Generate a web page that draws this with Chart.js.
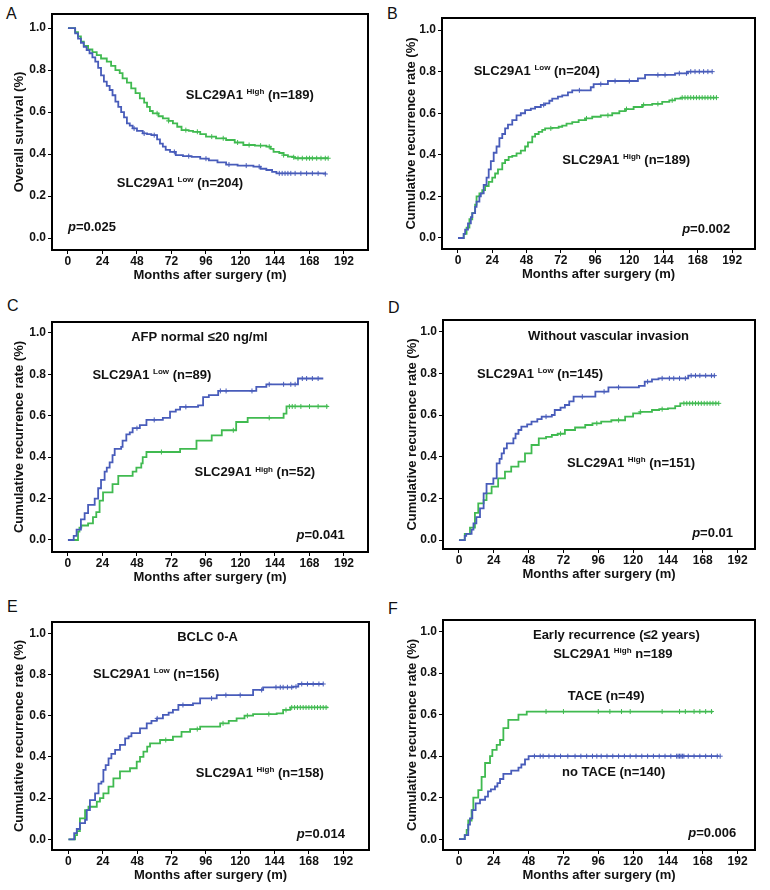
<!DOCTYPE html>
<html>
<head>
<meta charset="utf-8">
<script src="https://cdn.jsdelivr.net/npm/chart.js@4.4.1/dist/chart.umd.min.js"></script>
<style>
  body { margin: 0; background: #fff; width: 770px; height: 890px; position: relative; overflow: hidden;
         font-family: "Liberation Sans", Arial, sans-serif; }
  canvas { position: absolute; }
  .tag { position: absolute; font-size: 16px; color: #111; }
</style>
</head>
<body>
<div class="tag" style="left:6px;top:5px">A</div>
<div class="tag" style="left:387px;top:5px">B</div>
<div class="tag" style="left:7px;top:297px">C</div>
<div class="tag" style="left:388px;top:299px">D</div>
<div class="tag" style="left:7px;top:598px">E</div>
<div class="tag" style="left:388px;top:600px">F</div>

<canvas id="pA" width="383" height="295" style="left:0;top:0"></canvas>
<canvas id="pB" width="380" height="290" style="left:390px;top:4px"></canvas>
<canvas id="pC" width="383" height="289" style="left:0;top:308px"></canvas>
<canvas id="pD" width="379" height="288" style="left:391px;top:306px"></canvas>
<canvas id="pE" width="384" height="287" style="left:0;top:608px"></canvas>
<canvas id="pF" width="379" height="289" style="left:391px;top:606px"></canvas>

<script>
const xTicks = [0, 24, 48, 72, 96, 120, 144, 168, 192]
const yTicks = [0, 0.2, 0.4, 0.6, 0.8, 1.0]

// A: overall survival
const aHighT = [0, 5, 7, 9, 11, 14, 17, 20, 23, 27, 30, 33, 36, 38, 41, 44, 47, 50, 53, 55, 57, 59, 63, 66, 70, 73, 76, 79, 84, 87, 92, 96, 103, 110, 116, 122, 130, 138, 141, 143, 147, 150, 153, 156, 158, 181]
const aHighS = [1.0, 0.98, 0.96, 0.935, 0.915, 0.898, 0.885, 0.871, 0.855, 0.84, 0.82, 0.80, 0.785, 0.76, 0.74, 0.713, 0.69, 0.665, 0.645, 0.625, 0.605, 0.594, 0.58, 0.57, 0.558, 0.546, 0.53, 0.514, 0.51, 0.506, 0.495, 0.483, 0.475, 0.467, 0.455, 0.443, 0.44, 0.435, 0.425, 0.41, 0.405, 0.395, 0.388, 0.385, 0.38, 0.38]
const aHighC = [62, 70, 82, 90, 100, 108, 118, 126, 134, 140, 150, 157, 160, 163, 166, 168, 170, 173, 176, 179, 181]
const aLowT = [0, 5, 7, 9, 11, 13, 15, 17, 19, 21, 23, 25, 27, 29, 31, 33, 35, 37, 39, 41, 43, 45, 48, 52, 55, 58, 62, 64, 66, 68, 71, 75, 80, 86, 92, 98, 104, 110, 118, 129, 134, 138, 142, 145, 179]
const aLowS = [1.0, 0.975, 0.95, 0.93, 0.91, 0.895, 0.88, 0.86, 0.84, 0.81, 0.775, 0.745, 0.725, 0.705, 0.68, 0.65, 0.625, 0.60, 0.575, 0.546, 0.535, 0.522, 0.51, 0.498, 0.495, 0.49, 0.47, 0.45, 0.435, 0.42, 0.41, 0.395, 0.39, 0.387, 0.378, 0.37, 0.36, 0.35, 0.345, 0.34, 0.33, 0.324, 0.315, 0.308, 0.305]
const aLowC = [46, 53, 60, 74, 84, 96, 112, 124, 133, 147, 149, 151, 153, 155, 158, 162, 166, 170, 174, 179]

// B: recurrence, all patients
const bLowT = [0, 4, 5, 7, 9, 10, 12, 13, 15, 16, 18, 20, 21.5, 23, 25, 27, 29, 31, 33, 35, 38, 41, 44, 47, 51, 54, 58, 61, 64, 66, 70, 73, 77, 80, 93, 95, 105, 126, 131, 152, 161, 178]
const bLowS = [0, 0.02, 0.04, 0.07, 0.1, 0.12, 0.15, 0.175, 0.2, 0.215, 0.255, 0.29, 0.33, 0.37, 0.41, 0.44, 0.48, 0.5, 0.527, 0.545, 0.567, 0.59, 0.6, 0.615, 0.622, 0.63, 0.64, 0.647, 0.66, 0.67, 0.68, 0.686, 0.7, 0.71, 0.725, 0.74, 0.755, 0.768, 0.784, 0.792, 0.80, 0.80]
const bLowC = [60, 85, 100, 110, 120, 140, 145, 155, 160, 163, 166, 169, 172, 175, 178]
const bHighT = [0, 4, 6, 8, 10, 12, 13, 15, 17, 19, 21.5, 24, 26, 28, 31, 33, 35.5, 38, 41, 44, 47, 49, 52, 54, 56.5, 59, 61, 66, 70.5, 73, 76, 80, 84.5, 89, 94, 100, 108, 113, 117, 123, 129, 136, 143, 148, 152, 156, 181.5]
const bHighS = [0, 0.02, 0.05, 0.09, 0.12, 0.16, 0.2, 0.215, 0.23, 0.25, 0.27, 0.29, 0.31, 0.33, 0.36, 0.375, 0.39, 0.395, 0.407, 0.42, 0.44, 0.46, 0.487, 0.5, 0.51, 0.52, 0.527, 0.53, 0.535, 0.54, 0.55, 0.557, 0.567, 0.575, 0.583, 0.59, 0.6, 0.61, 0.62, 0.63, 0.64, 0.645, 0.655, 0.662, 0.67, 0.675, 0.675]
const bHighC = [65, 90, 105, 118, 130, 140, 150, 157, 159, 161, 163, 165, 167, 169, 171, 173, 175, 177, 179, 181]

// C: AFP normal
const cLowT = [0, 4, 6, 9, 11.6, 14, 18.6, 21, 23, 25.5, 27, 29, 31, 32.5, 37, 38, 40.6, 43, 45, 50, 54.6, 66, 71, 75, 78, 90.5, 94, 98, 104.5, 131, 138, 160, 177.6]
const cLowS = [0, 0.02, 0.05, 0.1, 0.13, 0.17, 0.2, 0.25, 0.29, 0.33, 0.35, 0.375, 0.41, 0.44, 0.45, 0.48, 0.51, 0.52, 0.54, 0.555, 0.58, 0.59, 0.62, 0.63, 0.643, 0.65, 0.69, 0.70, 0.72, 0.74, 0.752, 0.78, 0.78]
const cLowC = [48, 60, 82, 106, 110, 128, 140, 150, 155, 158, 163, 166, 170, 174]
const cHighT = [0, 7, 8, 9.3, 14, 17.4, 19.7, 22, 24.4, 31, 35, 45, 47.6, 51, 52, 54.6, 78, 89.4, 100, 107, 117, 125, 150, 152, 181]
const cHighS = [0, 0.04, 0.06, 0.07, 0.08, 0.11, 0.135, 0.19, 0.23, 0.27, 0.31, 0.33, 0.35, 0.37, 0.40, 0.425, 0.44, 0.48, 0.505, 0.53, 0.57, 0.59, 0.61, 0.645, 0.645]
const cHighC = [65, 115, 140, 154, 156, 158, 162, 168, 174, 180]

// D: without vascular invasion
const dLowT = [0, 4, 5, 8.7, 10, 12, 14.5, 17, 19, 23.7, 26, 28, 29.4, 31, 33, 37.5, 39, 41, 43, 47, 50, 54, 57, 64, 66, 70, 73, 76, 79, 94, 103, 124, 128, 133, 137.5, 158, 176.6]
const dLowS = [0, 0.02, 0.03, 0.05, 0.08, 0.11, 0.152, 0.224, 0.27, 0.296, 0.368, 0.39, 0.416, 0.44, 0.464, 0.488, 0.51, 0.528, 0.544, 0.555, 0.568, 0.58, 0.592, 0.6, 0.624, 0.635, 0.648, 0.665, 0.688, 0.712, 0.733, 0.74, 0.76, 0.771, 0.776, 0.789, 0.789]
const dLowC = [60, 85, 100, 110, 130, 140, 145, 148, 152, 156, 160, 163, 166, 170, 174, 176]
const dHighT = [0, 4, 7.6, 11, 13.3, 17, 19, 22.5, 27, 31.7, 36, 41, 45.5, 50, 55, 60, 64, 68, 73, 80, 87, 92, 98, 105, 114.5, 120, 125, 133, 138, 144, 149, 152.5, 179]
const dHighS = [0, 0.03, 0.06, 0.13, 0.176, 0.192, 0.224, 0.256, 0.296, 0.328, 0.352, 0.376, 0.416, 0.456, 0.488, 0.495, 0.504, 0.51, 0.528, 0.54, 0.552, 0.56, 0.568, 0.575, 0.592, 0.608, 0.615, 0.624, 0.628, 0.632, 0.643, 0.656, 0.656]
const dHighC = [70, 95, 110, 125, 140, 155, 157, 159, 161, 163, 165, 167, 169, 171, 173, 175, 177, 179]

// E: BCLC 0-A
const eLowT = [0, 4, 5.8, 8, 11.6, 12.8, 15, 18.6, 21, 23, 24.4, 26, 28, 30, 32.6, 36, 39.6, 42, 44, 50, 54.7, 58, 61.7, 66, 70, 73, 76.8, 87, 92, 103.6, 129, 136, 157, 160.6, 178]
const eLowS = [0, 0.03, 0.05, 0.078, 0.094, 0.142, 0.19, 0.223, 0.27, 0.28, 0.337, 0.36, 0.393, 0.415, 0.434, 0.458, 0.49, 0.5, 0.515, 0.539, 0.563, 0.575, 0.587, 0.604, 0.615, 0.628, 0.652, 0.66, 0.684, 0.70, 0.725, 0.738, 0.741, 0.754, 0.754]
const eLowC = [62, 80, 100, 110, 120, 135, 145, 148, 150, 153, 156, 159, 163, 167, 171, 175, 178]
const eHighT = [0, 4.6, 6, 8, 11.6, 14, 19.8, 22, 24.4, 28, 31.4, 36, 43, 47.7, 50, 52.4, 55, 57, 64, 73, 79, 85, 92, 106, 112, 117.5, 123, 129, 145.5, 150, 155, 181.5]
const eHighS = [0, 0.02, 0.04, 0.102, 0.142, 0.158, 0.183, 0.2, 0.223, 0.256, 0.296, 0.33, 0.345, 0.377, 0.4, 0.426, 0.45, 0.466, 0.482, 0.498, 0.522, 0.535, 0.547, 0.563, 0.575, 0.587, 0.6, 0.608, 0.611, 0.628, 0.64, 0.64]
const eHighC = [68, 90, 108, 125, 140, 152, 156, 158, 160, 162, 164, 166, 168, 170, 172, 174, 176, 178, 180]

// F: early recurrence, TACE vs no TACE
const fTaceT = [0, 4, 5.3, 6.4, 8.7, 9.9, 13.3, 15.6, 18, 21.4, 23, 26, 28.3, 30.6, 34, 41, 46.7, 175]
const fTaceS = [0, 0.02, 0.045, 0.09, 0.14, 0.2, 0.236, 0.30, 0.367, 0.40, 0.43, 0.454, 0.478, 0.535, 0.575, 0.60, 0.615, 0.615]
const fTaceC = [60, 72, 96, 104, 112, 118, 140, 152, 156, 162, 166, 170, 174]
const fNoT = [0, 4, 6.4, 7.6, 9.2, 11.5, 14.5, 18, 20, 22, 24.8, 26.5, 28.3, 30.6, 36, 41, 43, 45.5, 48, 179]
const fNoS = [0, 0.02, 0.07, 0.10, 0.14, 0.173, 0.19, 0.205, 0.23, 0.24, 0.254, 0.27, 0.29, 0.315, 0.33, 0.345, 0.36, 0.385, 0.40, 0.40]
const fNoC = [52, 56, 58, 62, 66, 70, 75, 80, 84, 88, 92, 95, 98, 102, 106, 110, 114, 118, 122, 126, 130, 134, 138, 142, 146, 150, 151, 152, 153, 154, 155, 158, 162, 166, 170, 174, 178, 180]

const BLUE = "rgb(72, 92, 186)"
const GREEN = "rgb(64, 186, 80)"
const FONT = '"Liberation Sans", Arial, sans-serif'
Chart.defaults.font.family = FONT

// value of a step curve at time x (for placing censor marks)
function stepAt(t, s, x) {
  let v = s[0]
  for (let i = 0; i < t.length; i++) if (t[i] <= x) v = s[i]
  return v
}

function curve(t, s, cens, color) {
  return [
    { type: "line", data: t.map((x, i) => ({ x: x, y: s[i] })), stepped: true,
      borderColor: color, borderWidth: 1.8, pointRadius: 0, fill: false },
    { type: "scatter", data: cens.map(x => ({ x: x, y: stepAt(t, s, x) })),
      pointStyle: "cross", pointRadius: 2.5, borderColor: color, borderWidth: 1 }
  ]
}

const sup = (a, b, c) => [[a, ""], [b, "s"], [c, ""]]

// frame box + text labels
const framePlugin = {
  id: "frame",
  afterDraw(chart, args, opts) {
    const { ctx, chartArea: a, scales } = chart
    ctx.save()
    ctx.strokeStyle = "#000"
    ctx.lineWidth = 2
    ctx.strokeRect(a.left, a.top, a.right - a.left, a.bottom - a.top)
    ctx.fillStyle = "#111"
    ctx.textBaseline = "middle"
    ctx.textAlign = "left"
    ;(opts.notes || []).forEach(n => {
      let px = scales.x.getPixelForValue(n.x)
      const py = scales.y.getPixelForValue(n.y)
      n.parts.forEach(([txt, kind]) => {
        if (kind === "s") {
          ctx.font = "bold 8px " + FONT
          ctx.fillText(txt, px, py - 3.5)
        } else {
          ctx.font = (kind === "i" ? "italic " : "") + "bold 13px " + FONT
          ctx.fillText(txt, px, py)
        }
        px += ctx.measureText(txt).width
      })
    })
    ctx.restore()
  }
}

function makePanel(id, cfg) {
  new Chart(document.getElementById(id), {
    data: { datasets: cfg.datasets },
    options: {
      responsive: false,
      animation: false,
      layout: { padding: { left: 0, top: 14, right: 15, bottom: 0 } },
      plugins: { legend: { display: false }, tooltip: { enabled: false }, frame: { notes: cfg.notes } },
      scales: {
        x: {
          type: "linear", min: cfg.x[0], max: cfg.x[1],
          afterBuildTicks: s => { s.ticks = xTicks.map(v => ({ value: v })) },
          afterFit: s => { s.height = 45 },
          grid: { drawOnChartArea: false, color: "#000", tickLength: 4 },
          border: { display: false },
          ticks: { color: "#111", font: { weight: "bold", size: 12 }, padding: 0, maxRotation: 0, autoSkip: false },
          title: { display: true, text: "Months after surgery (m)", color: "#111",
                   font: { weight: "bold", size: 13 }, padding: { top: 0, bottom: 12 } }
        },
        y: {
          type: "linear", min: cfg.y[0], max: cfg.y[1],
          afterBuildTicks: s => { s.ticks = yTicks.map(v => ({ value: v })) },
          afterFit: s => { s.width = 52 },
          grid: { drawOnChartArea: false, color: "#000", tickLength: 4 },
          border: { display: false },
          ticks: { color: "#111", font: { weight: "bold", size: 12 }, padding: 2, callback: v => v.toFixed(1) },
          title: { display: true, text: cfg.yTitle, color: "#111",
                   font: { weight: "bold", size: 13 }, padding: { top: cfg.tPad, bottom: 0 } }
        }
      }
    },
    plugins: [framePlugin]
  })
}

const REC = "Cumulative recurrence rate (%)"

makePanel("pA", {
  x: [-11.1, 208.7], y: [-0.057, 1.067], yTitle: "Overall survival (%)", tPad: 12,
  datasets: [...curve(aLowT, aLowS, aLowC, BLUE), ...curve(aHighT, aHighS, aHighC, GREEN)],
  notes: [
    { x: 82, y: 0.68, parts: sup("SLC29A1 ", "High", " (n=189)") },
    { x: 34, y: 0.262, parts: sup("SLC29A1 ", "Low", " (n=204)") },
    { x: 0, y: 0.052, parts: [["p", "i"], ["=0.025", ""]] }
  ]
})

makePanel("pB", {
  x: [-11.2, 208], y: [-0.053, 1.058], yTitle: REC, tPad: 14,
  datasets: [...curve(bLowT, bLowS, bLowC, BLUE), ...curve(bHighT, bHighS, bHighC, GREEN)],
  notes: [
    { x: 11, y: 0.80, parts: sup("SLC29A1 ", "Low", " (n=204)") },
    { x: 73, y: 0.375, parts: sup("SLC29A1 ", "High", " (n=189)") },
    { x: 157, y: 0.043, parts: [["p", "i"], ["=0.002", ""]] }
  ]
})

makePanel("pC", {
  x: [-11.1, 208.7], y: [-0.058, 1.053], yTitle: REC, tPad: 12,
  datasets: [...curve(cLowT, cLowS, cLowC, BLUE), ...curve(cHighT, cHighS, cHighC, GREEN)],
  notes: [
    { x: 44, y: 0.98, parts: [["AFP normal ≤20 ng/ml", ""]] },
    { x: 17, y: 0.797, parts: sup("SLC29A1 ", "Low", " (n=89)") },
    { x: 88, y: 0.324, parts: sup("SLC29A1 ", "High", " (n=52)") },
    { x: 159, y: 0.02, parts: [["p", "i"], ["=0.041", ""]] }
  ]
})

makePanel("pD", {
  x: [-11, 204], y: [-0.043, 1.056], yTitle: REC, tPad: 14,
  datasets: [...curve(dLowT, dLowS, dLowC, BLUE), ...curve(dHighT, dHighS, dHighC, GREEN)],
  notes: [
    { x: 47.6, y: 0.975, parts: [["Without vascular invasion", ""]] },
    { x: 12.4, y: 0.797, parts: sup("SLC29A1 ", "Low", " (n=145)") },
    { x: 74.5, y: 0.37, parts: sup("SLC29A1 ", "High", " (n=151)") },
    { x: 160.7, y: 0.034, parts: [["p", "i"], ["=0.01", ""]] }
  ]
})

makePanel("pE", {
  x: [-11.5, 210], y: [-0.052, 1.055], yTitle: REC, tPad: 12,
  datasets: [...curve(eLowT, eLowS, eLowC, BLUE), ...curve(eHighT, eHighS, eHighC, GREEN)],
  notes: [
    { x: 76, y: 0.982, parts: [["BCLC 0-A", ""]] },
    { x: 17.2, y: 0.80, parts: sup("SLC29A1 ", "Low", " (n=156)") },
    { x: 89, y: 0.32, parts: sup("SLC29A1 ", "High", " (n=158)") },
    { x: 159.6, y: 0.026, parts: [["p", "i"], ["=0.014", ""]] }
  ]
})

makePanel("pF", {
  x: [-11, 204], y: [-0.052, 1.056], yTitle: REC, tPad: 14,
  datasets: [...curve(fNoT, fNoS, fNoC, BLUE), ...curve(fTaceT, fTaceS, fTaceC, GREEN)],
  notes: [
    { x: 51, y: 0.984, parts: [["Early recurrence (≤2 years)", ""]] },
    { x: 64.9, y: 0.892, parts: sup("SLC29A1 ", "High", " n=189") },
    { x: 75, y: 0.69, parts: [["TACE (n=49)", ""]] },
    { x: 71, y: 0.32, parts: [["no TACE (n=140)", ""]] },
    { x: 158, y: 0.03, parts: [["p", "i"], ["=0.006", ""]] }
  ]
})
</script>
</body>
</html>
